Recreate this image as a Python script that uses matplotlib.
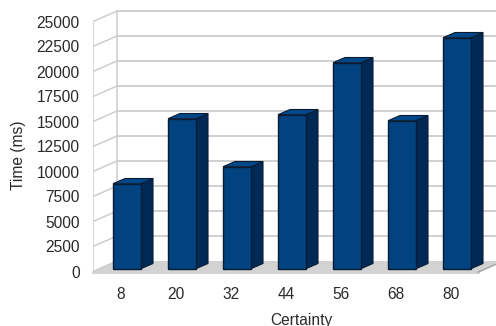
import matplotlib
matplotlib.use("Agg")
import matplotlib.pyplot as plt

plt.rcParams['font.family'] = ['Liberation Sans', 'DejaVu Sans']

# data
categories = ["8", "20", "32", "44", "56", "68", "80"]
times = [8500, 15000, 10200, 15400, 20600, 14800, 23100]
yticks = list(range(0, 25001, 2500))

W, H = 496, 326
fig = plt.figure(figsize=(W / 100, H / 100), dpi=100)
# axes: x from left wall front edge to image edge, y=0 on the front floor edge
ax = fig.add_axes([93 / W, (H - 271.5) / H, (W - 93) / W, 271.5 / H])
PX = 1 / 55      # one pixel in category units
VP = 100         # one pixel in value units
ax.set_xlim(-28 * PX, 375 * PX)
ax.set_ylim(0, 271.5 * VP)
for s in ax.spines.values():
    s.set_visible(False)
ax.patch.set_alpha(0)

# 3d wall offset
wx, wy = 24 * PX, 10.5 * VP
x0, x1 = -28 * PX, 357 * PX
grid = '#cdcdcd'

# floor
ax.fill([x0, x0 + wx, x1 + wx, x1], [0, wy, wy, 0], color='#d2d2d2', lw=0, zorder=1)
ax.plot([x0, x1], [-80, -80], color='#d2d2d2', lw=2, clip_on=False, zorder=1)
ax.plot([x1, x1 + wx], [-60, wy - 60], color='#a8a8a8', lw=1.2, clip_on=False, zorder=1)

# walls and grid
ax.plot([x0, x0], [0, 25000], color=grid, lw=1.1, zorder=1)
ax.plot([x0 + wx, x0 + wx], [wy, 25000 + wy], color=grid, lw=1.1, zorder=1)
for v in yticks:
    ax.plot([x0, x0 + wx], [v, v + wy], color=grid, lw=1.1, zorder=1)
    if v > 0:
        ax.plot([x0 + wx, x1 + wx], [v + wy, v + wy], color=grid, lw=1.3, zorder=1)

# bars
bl, bw = -8 * PX, 28 * PX
dx, dy = 12 * PX, 5.2 * VP
base = 2.8 * VP
edge = '#0a1c33'
for i, t in enumerate(times):
    l, r = i + bl, i + bl + bw
    top = t + base
    ax.fill([r, r + dx, r + dx, r], [base, base + dy, top + dy, top],
            facecolor='#002a55', edgecolor=edge, lw=0.8, zorder=3)
    ax.fill([l, l + dx, r + dx, r], [top, top + dy, top + dy, top],
            facecolor='#00488a', edgecolor=edge, lw=0.8, zorder=3)
    ax.bar(i + bl + bw / 2, t, bw, bottom=base, color='#004380', edgecolor=edge, lw=1.0, zorder=4)

ax.set_xticks(range(len(categories)))
ax.set_xticklabels(categories)
ax.set_yticks(yticks)
ax.set_yticklabels([str(v) for v in yticks])
ax.tick_params(axis='x', length=0, pad=11, labelsize=11.2, labelcolor='#2a2a2a')
ax.tick_params(axis='y', length=0, pad=9.5, labelsize=11.2, labelcolor='#2a2a2a')

fig.text(301 / W, 1 - 320 / H, "Certainty", ha='center', va='center', fontsize=11.2, color='#2a2a2a')
fig.text(18 / W, 1 - 155 / H, "Time (ms)", rotation=90, ha='center', va='center', fontsize=11.2, color='#2a2a2a')

fig.savefig("out.png", dpi=100)
